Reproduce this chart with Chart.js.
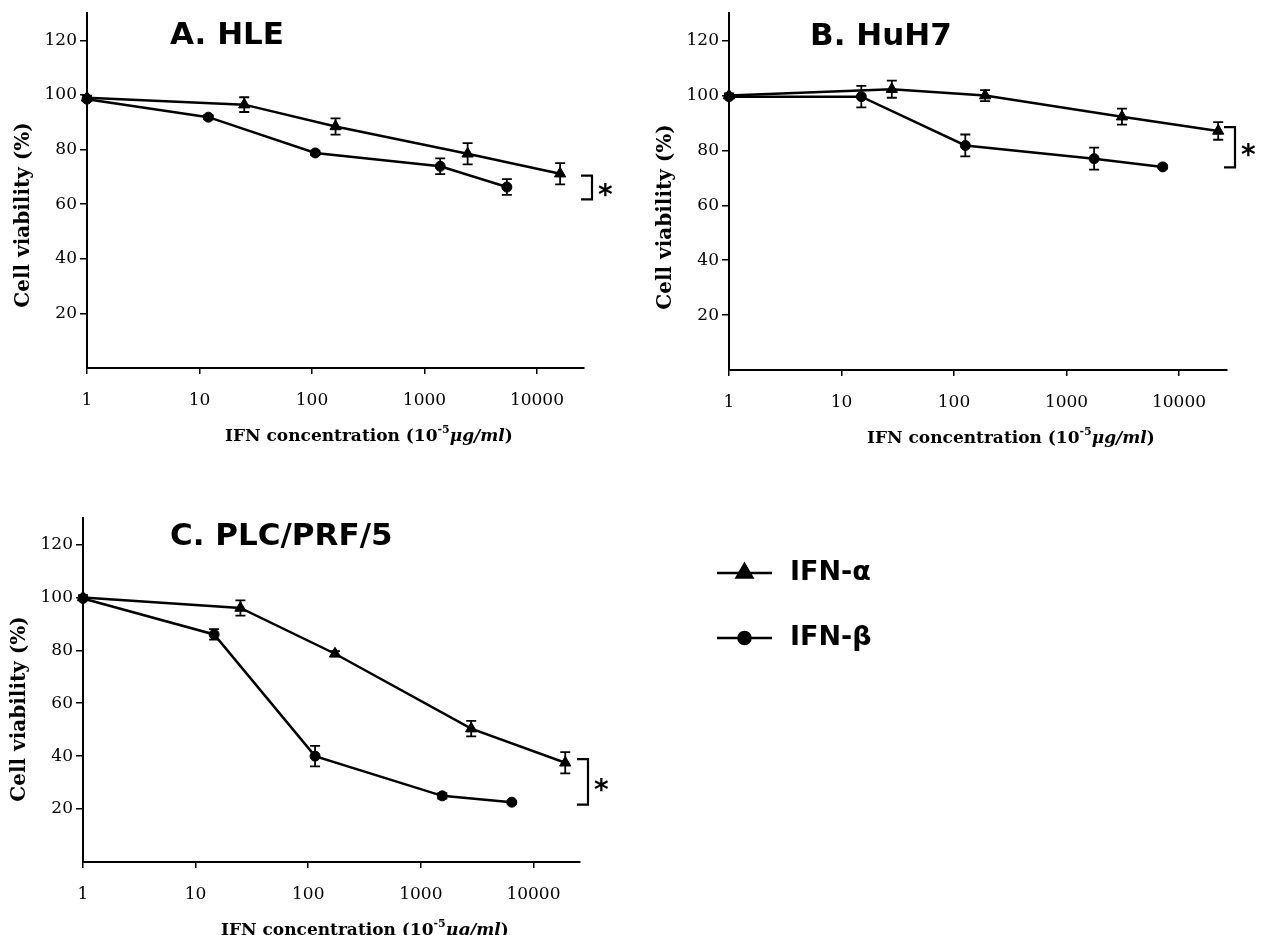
<!DOCTYPE html>
<html>
<head>
<meta charset="utf-8">
<script src="https://cdn.jsdelivr.net/npm/chart.js@4/dist/chart.umd.min.js"></script>
<style>
  body { margin: 0; background: #fff; width: 1268px; height: 935px; position: relative; overflow: hidden; }
  canvas { position: absolute; }
  .title { position: absolute; font-family: "DejaVu Sans", sans-serif; font-weight: bold; font-size: 31px; line-height: 1; color: #000; white-space: nowrap; }
</style>
</head>
<body>
<canvas id="chartA" width="620" height="450" style="left:0;top:0"></canvas>
<canvas id="chartB" width="648" height="450" style="left:620px;top:0"></canvas>
<canvas id="chartC" width="1268" height="445" style="left:0;top:490px"></canvas>
<div class="title" style="left:170px;top:18px">A. HLE</div>
<div class="title" style="left:810px;top:19px">B. HuH7</div>
<div class="title" style="left:170px;top:519px">C. PLC/PRF/5</div>
<script>
// shared axis values
var xTicks = [1, 10, 100, 1000, 10000];
var xTickLabels = ['1', '10', '100', '1000', '10000'];
var yTicks = [20, 40, 60, 80, 100, 120];
var seriesNames = ['IFN-α', 'IFN-β'];

// A. HLE
var hleAlphaDose = [1, 25, 162, 2420, 16070];
var hleAlphaViab = [99, 96.5, 88.5, 78.5, 71.2];
var hleAlphaErr = [0.8, 2.7, 3, 3.9, 3.9];
var hleBetaDose = [1, 12, 107, 1380, 5400];
var hleBetaViab = [98.5, 91.9, 78.8, 73.9, 66.3];
var hleBetaErr = [0.5, 0.8, 0.8, 2.9, 2.9];
var hleBracket = [61.8, 70.5];

// B. HuH7
var huhAlphaDose = [1, 28, 189, 3110, 22300];
var huhAlphaViab = [100, 102.3, 100, 92.3, 87.1];
var huhAlphaErr = [0.8, 3.1, 2, 2.9, 3.2];
var huhBetaDose = [1, 15, 126, 1760, 7160];
var huhBetaViab = [99.6, 99.6, 81.8, 77, 74];
var huhBetaErr = [0.5, 3.9, 4, 4, 0.6];
var huhBracket = [73.8, 88.5];

// C. PLC/PRF/5
var plcAlphaDose = [1, 25, 173, 2800, 19150];
var plcAlphaViab = [100, 96, 78.7, 50.4, 37.5];
var plcAlphaErr = [0.8, 2.9, 1, 2.9, 4];
var plcBetaDose = [1, 14.6, 115, 1550, 6420];
var plcBetaViab = [99.6, 86, 40, 25, 22.6];
var plcBetaErr = [0.5, 2, 3.9, 1, 0.5];
var plcBracket = [21.7, 38.9];

Chart.defaults.font.family = '"DejaVu Serif", serif';
Chart.defaults.color = '#000';

function pts(xs, ys) {
  return xs.map(function (x, i) { return { x: x, y: ys[i] }; });
}

function drawXTitle(ctx, x, y) {
  var parts = [
    { t: 'IFN concentration (10', f: 'bold 17px "DejaVu Serif"', dy: 0 },
    { t: '-5', f: 'bold 11px "DejaVu Serif"', dy: -7 },
    { t: 'μg/ml', f: 'italic bold 17px "DejaVu Serif"', dy: 0 },
    { t: ')', f: 'bold 17px "DejaVu Serif"', dy: 0 }
  ];
  ctx.textAlign = 'left';
  ctx.textBaseline = 'middle';
  parts.forEach(function (p) {
    ctx.font = p.f;
    ctx.fillText(p.t, x, y + p.dy);
    x += ctx.measureText(p.t).width;
  });
}

// error bars, significance bracket, axis titles, legend
var refDecor = {
  id: 'refDecor',
  afterDatasetsDraw: function (chart, args, opts) {
    var ctx = chart.ctx, ys = chart.scales.y, area = chart.chartArea;
    ctx.save();
    ctx.strokeStyle = '#000';
    ctx.fillStyle = '#000';
    ctx.lineWidth = 1.8;
    chart.data.datasets.forEach(function (ds, di) {
      var meta = chart.getDatasetMeta(di);
      ds.errors.forEach(function (e, i) {
        var p = meta.data[i];
        var top = ys.getPixelForValue(ds.data[i].y + e);
        var bot = ys.getPixelForValue(ds.data[i].y - e);
        ctx.beginPath();
        ctx.moveTo(p.x, top); ctx.lineTo(p.x, bot);
        ctx.moveTo(p.x - 5, top); ctx.lineTo(p.x + 5, top);
        ctx.moveTo(p.x - 5, bot); ctx.lineTo(p.x + 5, bot);
        ctx.stroke();
      });
    });

    // bracket + asterisk
    var yLo = ys.getPixelForValue(opts.bracket[0]);
    var yHi = ys.getPixelForValue(opts.bracket[1]);
    var x0 = area.right - 3, x1 = area.right + 8;
    ctx.lineWidth = 2.2;
    ctx.beginPath();
    ctx.moveTo(x0, yHi); ctx.lineTo(x1, yHi);
    ctx.lineTo(x1, yLo); ctx.lineTo(x0, yLo);
    ctx.stroke();
    ctx.font = 'bold 28px "DejaVu Sans"';
    ctx.textAlign = 'left';
    ctx.textBaseline = 'alphabetic';
    ctx.fillText('*', x1 + 6, (yLo + yHi) / 2 + 17);

    // axis titles
    drawXTitle(ctx, area.left + 138, area.bottom + 69);
    ctx.save();
    ctx.translate(area.left - 63, area.bottom - 153);
    ctx.rotate(-Math.PI / 2);
    ctx.font = 'bold 20px "DejaVu Serif"';
    ctx.textAlign = 'center';
    ctx.textBaseline = 'middle';
    ctx.fillText('Cell viability (%)', 0, 0);
    ctx.restore();

    // legend
    if (opts.legend) {
      chart.data.datasets.forEach(function (ds, di) {
        var ly = opts.legend.y[di];
        ctx.lineWidth = 2.5;
        ctx.beginPath();
        ctx.moveTo(opts.legend.x0, ly); ctx.lineTo(opts.legend.x1, ly);
        ctx.stroke();
        Chart.helpers.drawPoint(ctx, {
          pointStyle: ds.pointStyle, radius: di === 0 ? 9 : 6, rotation: 0, borderWidth: 1
        }, (opts.legend.x0 + opts.legend.x1) / 2, ly);
        ctx.font = 'bold 27px "DejaVu Sans"';
        ctx.textAlign = 'left';
        ctx.textBaseline = 'middle';
        ctx.fillText(ds.label, opts.legend.tx, ly);
      });
    }
    ctx.restore();
  }
};

function buildPanel(id, p) {
  var common = {
    borderColor: '#000', backgroundColor: '#000', borderWidth: 2.5,
    pointBackgroundColor: '#000', pointBorderColor: '#000', pointBorderWidth: 1,
    tension: 0, clip: false
  };
  return new Chart(document.getElementById(id).getContext('2d'), {
    type: 'line',
    data: {
      datasets: [
        Object.assign({ label: seriesNames[0], data: pts(p.aDose, p.aViab), errors: p.aErr,
          pointStyle: 'triangle', pointRadius: 6.5 }, common),
        Object.assign({ label: seriesNames[1], data: pts(p.bDose, p.bViab), errors: p.bErr,
          pointStyle: 'circle', pointRadius: 5 }, common)
      ]
    },
    options: {
      responsive: false,
      animation: false,
      events: [],
      layout: { padding: { top: p.top, right: p.padRight, left: 0, bottom: 0 } },
      plugins: {
        legend: { display: false },
        tooltip: { enabled: false },
        refDecor: { bracket: p.bracket, legend: p.legend }
      },
      scales: {
        x: {
          type: 'logarithmic', min: 1, max: p.xMax,
          afterBuildTicks: function (s) { s.ticks = xTicks.map(function (v) { return { value: v }; }); },
          afterFit: function (s) { s.height = p.xAxisH; },
          ticks: {
            autoSkip: false, maxRotation: 0, padding: 16, font: { size: 17 },
            callback: function (v, i) { return xTickLabels[i]; }
          },
          grid: { drawOnChartArea: false, tickLength: 6, color: '#000', lineWidth: 1.5 },
          border: { color: '#000', width: 2 }
        },
        y: {
          min: 0, max: 130,
          afterBuildTicks: function (s) { s.ticks = yTicks.map(function (v) { return { value: v }; }); },
          afterFit: function (s) { s.width = p.left; },
          ticks: { padding: 3, font: { size: 17 } },
          grid: { drawOnChartArea: false, tickLength: 7, color: '#000', lineWidth: 1.5 },
          border: { color: '#000', width: 2 }
        }
      }
    },
    plugins: [refDecor]
  });
}

buildPanel('chartA', {
  aDose: hleAlphaDose, aViab: hleAlphaViab, aErr: hleAlphaErr,
  bDose: hleBetaDose, bViab: hleBetaViab, bErr: hleBetaErr, bracket: hleBracket,
  left: 87, top: 12, padRight: 36, xAxisH: 82, xMax: 26200
});
buildPanel('chartB', {
  aDose: huhAlphaDose, aViab: huhAlphaViab, aErr: huhAlphaErr,
  bDose: huhBetaDose, bViab: huhBetaViab, bErr: huhBetaErr, bracket: huhBracket,
  left: 109, top: 13, padRight: 41, xAxisH: 80, xMax: 26700
});
buildPanel('chartC', {
  aDose: plcAlphaDose, aViab: plcAlphaViab, aErr: plcAlphaErr,
  bDose: plcBetaDose, bViab: plcBetaViab, bErr: plcBetaErr, bracket: plcBracket,
  left: 83, top: 28, padRight: 688, xAxisH: 73, xMax: 25900,
  legend: { x0: 717, x1: 772, tx: 790, y: [83, 148] }
});
</script>
</body>
</html>
